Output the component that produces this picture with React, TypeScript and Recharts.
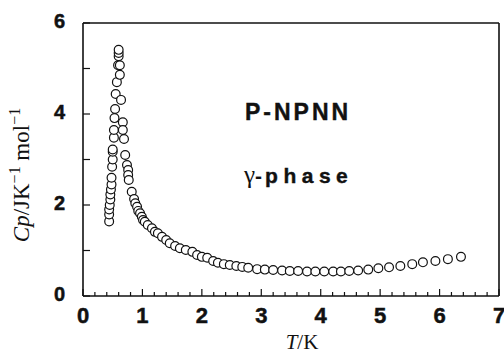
import React from "react";
import { ScatterChart, Scatter, XAxis, YAxis } from "recharts";

// rising side of the lambda peak (T / K, Cp / J K^-1 mol^-1)
const risingT = [0.44, 0.44, 0.44, 0.45, 0.46, 0.46, 0.47, 0.48, 0.48, 0.49, 0.5, 0.5, 0.5, 0.52, 0.52, 0.53, 0.54, 0.55, 0.57, 0.59, 0.6, 0.6, 0.6];
const risingCp = [1.64, 1.79, 1.9, 2.0, 2.12, 2.23, 2.34, 2.45, 2.6, 2.84, 3.0, 3.17, 3.22, 3.48, 3.65, 3.91, 4.11, 4.44, 4.7, 5.07, 5.27, 5.34, 5.41];

// falling side, peak down to ~2 K
const fallingT = [0.62, 0.62, 0.64, 0.67, 0.67, 0.69, 0.71, 0.74, 0.76, 0.76, 0.77, 0.82, 0.86, 0.88, 0.91, 0.93, 0.96, 0.99, 1.01, 1.04, 1.09, 1.16, 1.21, 1.26, 1.33, 1.4, 1.46, 1.55, 1.63, 1.73, 1.84, 1.92, 2.0, 2.09];
const fallingCp = [5.07, 4.86, 4.31, 3.82, 3.65, 3.45, 3.1, 2.88, 2.77, 2.66, 2.55, 2.29, 2.13, 2.04, 1.96, 1.87, 1.82, 1.74, 1.67, 1.63, 1.56, 1.49, 1.41, 1.38, 1.3, 1.23, 1.16, 1.1, 1.05, 1.01, 0.97, 0.9, 0.86, 0.84];

// tail
const tailT = [2.19, 2.27, 2.37, 2.47, 2.58, 2.68, 2.78, 2.93, 3.06, 3.2, 3.35, 3.48, 3.62, 3.77, 3.91, 4.06, 4.21, 4.34, 4.48, 4.63, 4.8, 4.97, 5.15, 5.34, 5.54, 5.72, 5.93, 6.14, 6.36];
const tailCp = [0.77, 0.73, 0.7, 0.68, 0.66, 0.64, 0.62, 0.59, 0.58, 0.57, 0.56, 0.55, 0.55, 0.54, 0.54, 0.54, 0.54, 0.54, 0.55, 0.56, 0.58, 0.61, 0.63, 0.66, 0.7, 0.74, 0.77, 0.81, 0.86];

const xTicks = Array.from({ length: 36 }, (_, i) => Math.round(i * 2) / 10);
const xLabels = [0, 1, 2, 3, 4, 5, 6, 7];
const yTicks = [0, 1, 2, 3, 4, 5, 6];
const yLabels = [0, 2, 4, 6];

const points = [
  ...risingT.map((t, i) => ({ t, cp: risingCp[i] })),
  ...fallingT.map((t, i) => ({ t, cp: fallingCp[i] })),
  ...tailT.map((t, i) => ({ t, cp: tailCp[i] })),
];

const INK = "#111";
const SANS = "'Liberation Sans', Arial, sans-serif";
const SERIF = "'Liberation Serif', 'Times New Roman', serif";

const isMajor = (v: number) => Math.abs(v - Math.round(v)) < 1e-6;

function BottomTick(p: any) {
  const v = p.payload.value;
  const major = isMajor(v);
  return (
    <g>
      <line x1={p.x} x2={p.x} y1={p.y} y2={p.y - (major ? 7 : 4)} stroke={INK} strokeWidth={1.2} />
      {major && xLabels.includes(Math.round(v)) && (
        <text x={p.x} y={p.y + 27} textAnchor="middle" fontFamily={SANS} fontWeight="bold" fontSize={22} fill={INK} stroke={INK} strokeWidth={0.5}>
          {Math.round(v)}
        </text>
      )}
    </g>
  );
}

function TopTick(p: any) {
  const major = isMajor(p.payload.value);
  return <line x1={p.x} x2={p.x} y1={p.y} y2={p.y + (major ? 7 : 4)} stroke={INK} strokeWidth={1.2} />;
}

function LeftTick(p: any) {
  const v = p.payload.value;
  return (
    <g>
      <line x1={p.x} x2={p.x + 7} y1={p.y} y2={p.y} stroke={INK} strokeWidth={1.2} />
      {yLabels.includes(v) && (
        <text x={p.x - 18} y={p.y + 5} textAnchor="end" fontFamily={SANS} fontWeight="bold" fontSize={20} fill={INK} stroke={INK} strokeWidth={0.5}>
          {v}
        </text>
      )}
    </g>
  );
}

function RightTick(p: any) {
  return <line x1={p.x} x2={p.x - 7} y1={p.y} y2={p.y} stroke={INK} strokeWidth={1.2} />;
}

const OpenCircle = (p: any) => (
  <circle cx={p.cx} cy={p.cy} r={4.4} fill="#fff" stroke={INK} strokeWidth={1.2} />
);

export default function App() {
  return (
    <div style={{ position: "absolute", left: 0, top: 0, width: 504, height: 355, background: "#fff" }}>
      <ScatterChart width={504} height={355} margin={{ top: 22, right: 4, bottom: 58, left: 82 }}>
        <XAxis
          type="number"
          dataKey="t"
          domain={[0, 7]}
          ticks={xTicks}
          interval={0}
          height={1}
          tickSize={0}
          tickMargin={0}
          tickLine={false}
          axisLine={{ stroke: INK, strokeWidth: 1.6 }}
          tick={BottomTick}
        />
        <XAxis
          xAxisId="top"
          orientation="top"
          type="number"
          domain={[0, 7]}
          ticks={xTicks}
          interval={0}
          height={1}
          tickSize={0}
          tickMargin={0}
          tickLine={false}
          axisLine={{ stroke: INK, strokeWidth: 1.6 }}
          tick={TopTick}
        />
        <YAxis
          type="number"
          dataKey="cp"
          domain={[0, 6]}
          ticks={yTicks}
          interval={0}
          width={1}
          tickSize={0}
          tickMargin={0}
          tickLine={false}
          axisLine={{ stroke: INK, strokeWidth: 1.6 }}
          tick={LeftTick}
        />
        <YAxis
          yAxisId="right"
          orientation="right"
          type="number"
          domain={[0, 6]}
          ticks={yTicks}
          interval={0}
          width={1}
          tickSize={0}
          tickMargin={0}
          tickLine={false}
          axisLine={{ stroke: INK, strokeWidth: 1.6 }}
          tick={RightTick}
        />
        <Scatter data={points} shape={OpenCircle} isAnimationActive={false} />
      </ScatterChart>

      <svg width={504} height={355} style={{ position: "absolute", left: 0, top: 0, pointerEvents: "none" }}>
        <text x={245} y={120} fontFamily={SANS} fontWeight="bold" fontSize={23} letterSpacing={3} fill={INK} stroke={INK} strokeWidth={0.4}>
          P-NPNN
        </text>
        <text x={244} y={183} fill={INK}>
          <tspan fontFamily={SERIF} fontSize={25}>γ</tspan>
          <tspan fontFamily={SANS} fontWeight="bold" fontSize={21}>-</tspan>
          <tspan dx={3} fontFamily={SANS} fontWeight="bold" fontSize={21} letterSpacing={5.5} stroke={INK} strokeWidth={0.4}>phase</tspan>
        </text>
        <text x={302} y={349} textAnchor="middle" fontFamily={SERIF} fontSize={21} fill={INK}>
          <tspan fontStyle="italic">T</tspan>/K
        </text>
        <text transform="translate(29 175) rotate(-90)" textAnchor="middle" fontFamily={SERIF} fontSize={23} fill={INK}>
          <tspan fontStyle="italic">Cp</tspan>/JK
          <tspan fontSize={16} dy={-9}>−1</tspan>
          <tspan dy={9}> mol</tspan>
          <tspan fontSize={16} dy={-9}>−1</tspan>
        </text>
      </svg>
    </div>
  );
}
